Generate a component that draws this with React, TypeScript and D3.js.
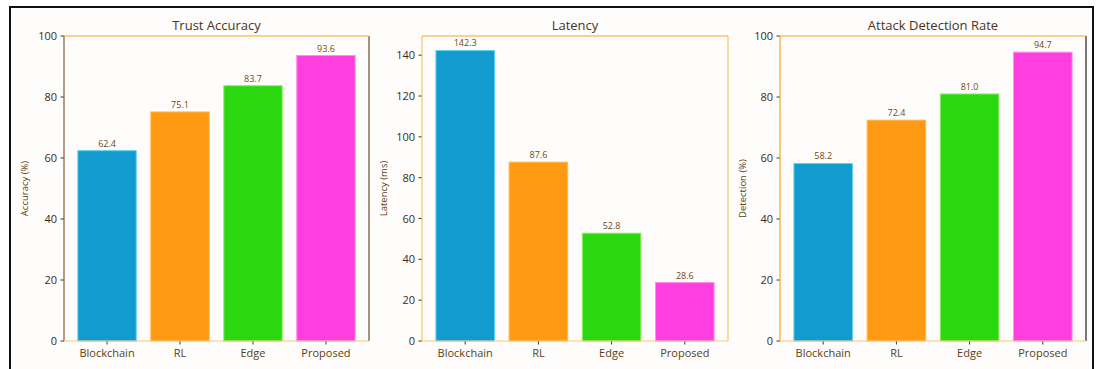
import React from "react";
import * as d3 from "d3";

const categories = ["Blockchain", "RL", "Edge", "Proposed"];
const trustAccuracy = [62.4, 75.1, 83.7, 93.6];
const latency = [142.3, 87.6, 52.8, 28.6];
const detectionRate = [58.2, 72.4, 81.0, 94.7];
const accuracyTicks = [0, 20, 40, 60, 80, 100];
const latencyTicks = [0, 20, 40, 60, 80, 100, 120, 140];
const detectionTicks = [0, 20, 40, 60, 80, 100];

const barColors = ["#129BCE", "#FF9A12", "#2BD810", "#FF3EE0"];
const barEdges = ["#5FD3F0", "#FFB84D", "#8CF060", "#FF8CF0"];

const FONT = "'Open Sans', 'Noto Sans', sans-serif";

type Spines = { left: string; right: string; top: string; bottom: string };

type PanelProps = {
  x0: number;
  x1: number;
  title: string;
  ylabel: string;
  values: number[];
  ymax: number;
  ticks: number[];
  spines: Spines;
  ylabelX: number;
};

const TOP = 36;
const BOTTOM = 341;

function Panel({ x0, x1, title, ylabel, values, ymax, ticks, spines, ylabelX }: PanelProps) {
  const x = d3.scaleLinear().domain([-0.59, 3.59]).range([x0, x1]);
  const y = d3.scaleLinear().domain([0, ymax]).range([BOTTOM, TOP]);
  const bw = x(0.4) - x(0);
  return (
    <g>
      <text x={(x0 + x1) / 2} y={30} textAnchor="middle" fontSize={13} fill="#4a3418" fontFamily={FONT}>
        {title}
      </text>
      {values.map((v, i) => (
        <g key={i}>
          <rect
            x={x(i) - bw}
            y={y(v)}
            width={bw * 2}
            height={y(0) - y(v)}
            fill={barColors[i]}
            stroke={barEdges[i]}
            strokeWidth={1}
          />
          <text x={x(i)} y={y(v) - 4} textAnchor="middle" fontSize={9} fill="#6b4a14" fontFamily={FONT}>
            {v.toFixed(1)}
          </text>
          <line x1={x(i)} x2={x(i)} y1={BOTTOM} y2={BOTTOM + 3.5} stroke="#4a3418" strokeWidth={1} />
          <text x={x(i)} y={357} textAnchor="middle" fontSize={11} fill="#5a3e14" fontFamily={FONT}>
            {categories[i]}
          </text>
        </g>
      ))}
      {ticks.map((t) => (
        <g key={t}>
          <line x1={x0 - 3.5} x2={x0} y1={y(t)} y2={y(t)} stroke="#4a3418" strokeWidth={1} />
          <text x={x0 - 7} y={y(t) + 4} textAnchor="end" fontSize={11} fill="#3e2a10" fontFamily={FONT}>
            {t}
          </text>
        </g>
      ))}
      <text
        transform={`translate(${ylabelX},${(TOP + BOTTOM) / 2}) rotate(-90)`}
        textAnchor="middle"
        fontSize={9.5}
        fill="#5a3e14"
        fontFamily={FONT}
      >
        {ylabel}
      </text>
      <line x1={x0} x2={x0} y1={TOP} y2={BOTTOM} stroke={spines.left} strokeWidth={1.2} />
      <line x1={x1} x2={x1} y1={TOP} y2={BOTTOM} stroke={spines.right} strokeWidth={1.2} />
      <line x1={x0} x2={x1} y1={TOP} y2={TOP} stroke={spines.top} strokeWidth={1.2} />
      <line x1={x0} x2={x1} y1={BOTTOM} y2={BOTTOM} stroke={spines.bottom} strokeWidth={1.2} />
    </g>
  );
}

export default function App() {
  return (
    <svg
      width={1098}
      height={369}
      style={{ position: "absolute", left: 0, top: 0, background: "#ffffff" }}
    >
      <rect x={10} y={7} width={1083} height={370} fill="#fefdfb" stroke="#111" strokeWidth={2} />
      <Panel
        x0={64}
        x1={369}
        title="Trust Accuracy"
        ylabel="Accuracy (%)"
        values={trustAccuracy}
        ymax={100}
        ticks={accuracyTicks}
        spines={{ left: "#7a6040", right: "#6a5030", top: "#F5A623", bottom: "#F9C77A" }}
        ylabelX={28}
      />
      <Panel
        x0={422}
        x1={728}
        title="Latency"
        ylabel="Latency (ms)"
        values={latency}
        ymax={149.4}
        ticks={latencyTicks}
        spines={{ left: "#F8C170", right: "#F8C170", top: "#F5A623", bottom: "#F9C77A" }}
        ylabelX={387}
      />
      <Panel
        x0={780}
        x1={1086}
        title="Attack Detection Rate"
        ylabel="Detection (%)"
        values={detectionRate}
        ymax={100}
        ticks={detectionTicks}
        spines={{ left: "#F5A623", right: "#222", top: "#F5A623", bottom: "#F9C77A" }}
        ylabelX={746}
      />
    </svg>
  );
}
